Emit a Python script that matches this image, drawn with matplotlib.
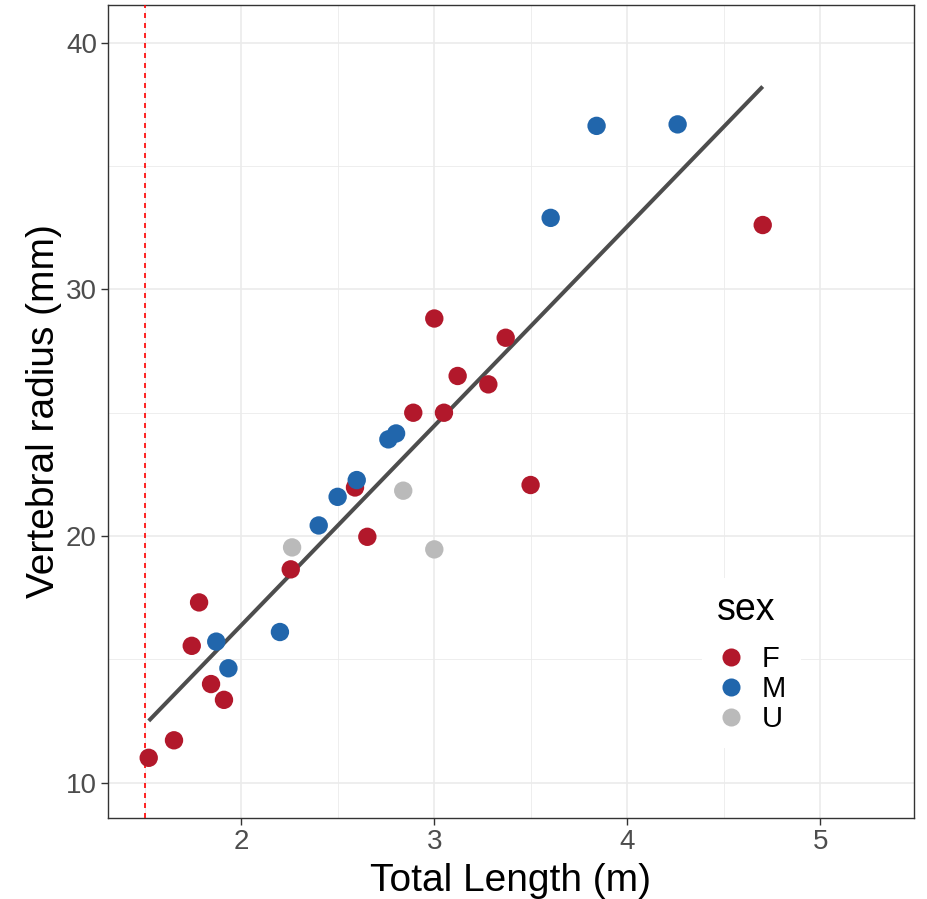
import numpy as np
import matplotlib
matplotlib.use("Agg")
import matplotlib.pyplot as plt
from matplotlib.lines import Line2D

plt.rcParams['font.family'] = ['Liberation Sans', 'DejaVu Sans']

# Data
f_x = [1.52, 1.651, 1.743, 1.781, 1.843, 1.910, 2.256, 2.589, 2.653, 2.891, 3.0, 3.050, 3.121, 3.280, 3.370, 3.499, 4.702]
f_y = [11.01, 11.72, 15.55, 17.31, 14.0, 13.36, 18.65, 21.97, 19.97, 25.0, 28.82, 25.0, 26.49, 26.15, 28.04, 22.07, 32.61]
m_x = [1.870, 1.933, 2.200, 2.401, 2.499, 2.598, 2.762, 2.802, 3.603, 3.841, 4.261]
m_y = [15.72, 14.64, 16.11, 20.43, 21.59, 22.27, 23.92, 24.16, 32.90, 36.63, 36.69]
u_x = [2.263, 2.839, 3.0]
u_y = [19.54, 21.84, 19.46]
sexes = ['F', 'M', 'U']
colors = ['#B2182B', '#2166AC', '#BABABA']
vline_x = 1.5
x_ticks = [2, 3, 4, 5]
y_ticks = [10, 20, 30, 40]

fig = plt.figure(figsize=(9.27, 8.99), dpi=100)
ax = fig.add_axes([108/927, 1-818/899, (914-108)/927, (818-5)/899])

# grid
for v in [1.5, 2.5, 3.5, 4.5]:
    ax.axvline(v, color='#EBEBEB', lw=0.6, zorder=0)
for v in [15, 25, 35]:
    ax.axhline(v, color='#EBEBEB', lw=0.6, zorder=0)
for v in x_ticks:
    ax.axvline(v, color='#EBEBEB', lw=1.2, zorder=0)
for v in y_ticks:
    ax.axhline(v, color='#EBEBEB', lw=1.2, zorder=0)

# regression
all_x = np.array(f_x + m_x + u_x)
all_y = np.array(f_y + m_y + u_y)
b, a = np.polyfit(all_x, all_y, 1)
xs = np.array([all_x.min(), all_x.max()])
ax.plot(xs, a + b * xs, color='#4D4D4D', lw=2.9, zorder=2, solid_capstyle='butt')

ax.axvline(vline_x, color='#FF0000', lw=1.2, ls=(0, (3, 3)), zorder=3)

for xx, yy, c in zip([f_x, m_x, u_x], [f_y, m_y, u_y], colors):
    ax.scatter(xx, yy, s=175, color=c, edgecolors='none', zorder=4)

ax.set_xlim(1.309, 5.486)
ax.set_ylim(8.57, 41.53)
ax.set_xticks(x_ticks)
ax.set_yticks(y_ticks)
ax.tick_params(axis='both', labelsize=20, labelcolor='#4D4D4D', color='#333333',
               length=5, width=1)
ax.tick_params(axis='x', pad=3)
ax.tick_params(axis='y', pad=3)
for s in ax.spines.values():
    s.set_color('#333333')
    s.set_linewidth(1)

ax.set_xlabel('Total Length (m)', fontsize=28, color='black', labelpad=6)
ax.set_ylabel('Vertebral radius (mm)', fontsize=28, color='black', labelpad=3)

handles = [Line2D([], [], marker='o', ls='none', markersize=13, color=c, markeredgewidth=0)
           for c in colors]
leg = ax.legend(handles, sexes, title='sex', loc='lower left',
                bbox_to_anchor=(0.737, 0.086), fontsize=21, title_fontsize=27,
                frameon=True, facecolor='white', edgecolor='none', framealpha=1,
                handlelength=1.0, handletextpad=0.55, labelspacing=0.08,
                borderpad=0.5, borderaxespad=0)
leg._legend_box.align = 'left'
leg._legend_box.sep = 12
leg.set_zorder(5)

fig.savefig('out.png', dpi=100)
